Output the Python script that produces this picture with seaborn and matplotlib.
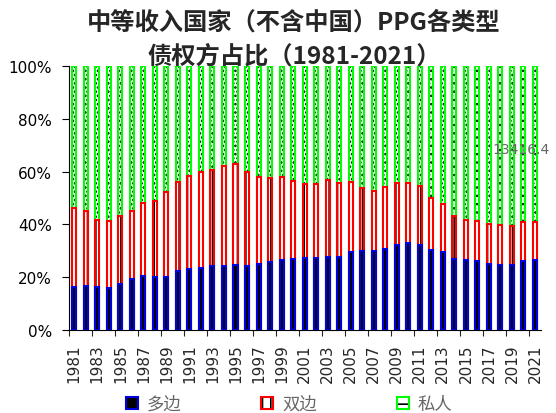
import numpy as np
import pandas as pd
import matplotlib.pyplot as plt
import seaborn as sns
from matplotlib.patches import Patch
from matplotlib.ticker import FixedLocator, FuncFormatter

# ==============================
# data (shares, %)
# ==============================
years = [str(y) for y in range(1981, 2022)]

multilateral = [16.2, 16.7, 16.3, 16.0, 17.4, 19.3, 20.3, 19.9, 19.9, 22.3,
                23.1, 23.6, 24.2, 24.1, 24.6, 24.2, 25.0, 25.9, 26.5, 26.8,
                27.4, 27.4, 27.6, 27.6, 29.5, 29.9, 29.8, 30.7, 32.1, 32.9,
                32.1, 30.3, 29.5, 26.8, 26.5, 26.0, 25.0, 24.5, 24.5, 26.0,
                26.5]
bilateral = [30.2, 28.2, 25.5, 25.1, 25.6, 25.9, 27.8, 28.9, 32.2, 33.6,
             35.1, 36.1, 36.5, 38.0, 38.4, 35.6, 32.9, 31.7, 31.3, 29.6,
             28.0, 27.9, 29.3, 28.1, 26.4, 23.9, 22.7, 23.3, 23.6, 22.6,
             22.4, 19.7, 18.2, 16.2, 15.3, 15.1, 15.3, 15.2, 14.8, 14.8,
             14.3]
private = [53.6, 55.1, 58.2, 58.9, 57.0, 54.8, 51.9, 51.2, 47.9, 44.1,
           41.8, 40.3, 39.3, 37.9, 37.0, 40.2, 42.1, 42.4, 42.2, 43.6,
           44.6, 44.7, 43.1, 44.3, 44.1, 46.2, 47.5, 46.0, 44.3, 44.5,
           45.5, 50.0, 52.3, 57.0, 58.2, 58.9, 59.7, 60.3, 60.7, 59.2,
           59.2]

series_names = ["多边", "双边", "私人"]

title_line1 = "中等收入国家（不含中国）PPG各类型"
title_line2 = "债权方占比（1981-2021）"
stray_label = "13416.4"

df = pd.DataFrame({"year": years, "多边": multilateral,
                   "双边": bilateral, "私人": private})
df["双边_top"] = df["多边"] + df["双边"]
df["私人_top"] = df["双边_top"] + df["私人"]

# ==============================
# style
# ==============================
sns.set_style("ticks")
plt.rcParams["font.family"] = ["DejaVu Sans", "Noto Sans CJK SC"]
plt.rcParams["hatch.linewidth"] = 1.2

BLUE = "#0000E0"
RED = "#FF0000"
GREEN = "#00FF00"

fig = plt.figure(figsize=(5.56, 4.14), dpi=100)
ax = fig.add_axes([68.5 / 556, 1 - 331 / 414, 472.25 / 556, 264 / 414])

# stacked bars drawn back to front (cumulative heights)
layers = [("私人_top", "white", GREEN, "...."),
          ("双边_top", "white", RED, "||"),
          ("多边", "black", BLUE, None)]

for col, face, edge, hatch in layers:
    n_before = len(ax.patches)
    sns.barplot(data=df, x="year", y=col, color=face, edgecolor=edge,
                linewidth=1.5, hatch=hatch, width=0.35, saturation=1,
                errorbar=None, ax=ax)
    for p in ax.patches[n_before:]:
        p._hatch_color = (0, 0, 0, 1)

ax.set_xlabel("")
ax.set_ylabel("")
ax.set_xlim(-0.5, len(years) - 0.5)
ax.set_ylim(0, 100)

# y axis
ax.yaxis.set_major_locator(FixedLocator([0, 20, 40, 60, 80, 100]))
ax.yaxis.set_major_formatter(FuncFormatter(lambda v, _: f"{v:.0f}%"))
ax.tick_params(axis="y", labelsize=11, length=5.3, width=0.8, pad=6.5,
               colors="black")

# x axis: labels every other year, tick marks between categories
ax.set_xticks(range(0, len(years), 2))
ax.set_xticklabels(years[::2], rotation=90)
ax.set_xticks(np.arange(-0.5, len(years) - 1, 2), minor=True)
ax.tick_params(axis="x", which="major", labelsize=11, length=0, pad=9.5)
ax.tick_params(axis="x", which="minor", length=4.5, width=0.8)

sns.despine(ax=ax)
for side in ["left", "bottom"]:
    ax.spines[side].set_linewidth(0.8)
    ax.spines[side].set_color("black")

ax.text(36.3, 68.7, stray_label, ha="left", va="center",
        fontsize=10, color="#666666")

# title
fig.text(294 / 556, 1 - 23 / 414, title_line1, ha="center", va="center",
         fontsize=17.5, fontweight="bold", family=["Noto Sans CJK SC"])
fig.text(294 / 556, 1 - 57 / 414, title_line2, ha="center", va="center",
         fontsize=17.5, fontweight="bold", family=["Noto Sans CJK SC"])

# legend
handles = [Patch(facecolor="black", edgecolor=BLUE, linewidth=1.5),
           Patch(facecolor="white", edgecolor=RED, linewidth=1.5, hatch="||"),
           Patch(facecolor="white", edgecolor=GREEN, linewidth=1.5, hatch="--")]
for h in handles:
    h._hatch_color = (0, 0, 0, 1)
leg = fig.legend(handles, series_names, loc="center", ncol=3,
                 bbox_to_anchor=(289 / 556, 1 - 405 / 414), frameon=False,
                 prop={"family": ["Noto Sans CJK SC"], "size": 12.5},
                 handlelength=0.7, handleheight=0.7, handletextpad=0.5,
                 columnspacing=4.6, borderaxespad=0, borderpad=0)
for t in leg.get_texts():
    t.set_color("#666666")

plt.savefig("out.png", dpi=100)
